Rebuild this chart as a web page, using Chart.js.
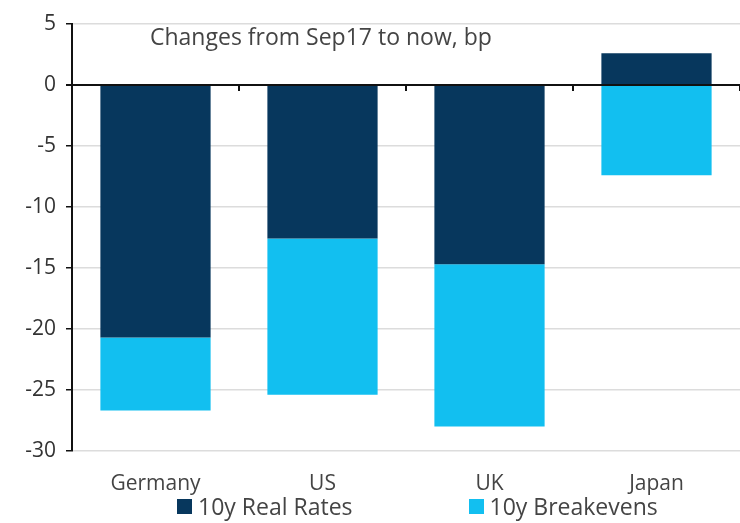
<!DOCTYPE html>
<html>
<head>
<meta charset="utf-8">
<script src="https://cdn.jsdelivr.net/npm/chart.js@4/dist/chart.umd.min.js"></script>
<style>
  body { margin: 0; background: #fff; font-family: "Open Sans", sans-serif; }
  #wrap { position: relative; width: 740px; height: 523px; }
  #chartBox { position: absolute; left: 0; top: 0; width: 740px; height: 510px; }
  #legend { position: absolute; left: 0; top: 492px; width: 740px; height: 28px; box-sizing: border-box;
            padding-left: 177px; display: flex; font-size: 23px; color: #444; line-height: 28px; }
  .item { display: flex; align-items: center; }
  .box { width: 15px; height: 15px; margin-right: 6px; }
</style>
</head>
<body>
<div id="wrap">
  <div id="chartBox"><canvas id="chart"></canvas></div>
  <div id="legend"></div>
</div>
<script>
const categories = ['Germany', 'US', 'UK', 'Japan'];
const realRates = [-20.7, -12.6, -14.7, 2.6];
const breakevens = [-6.0, -12.8, -13.3, -7.4];
const seriesNames = ['10y Real Rates', '10y Breakevens'];
const colors = ['#07375d', '#12bff0'];
const subtitle = 'Changes from Sep17 to now, bp';

// subtitle inside the plot + little category ticks on the zero line
const extras = {
    id: 'extras',
    afterDraw(chart) {
        const ctx = chart.ctx;
        const x = chart.scales.x;
        const y = chart.scales.y;
        const y0 = y.getPixelForValue(0);
        const step = x.getPixelForValue(1) - x.getPixelForValue(0);
        ctx.save();
        ctx.strokeStyle = '#111';
        ctx.lineWidth = 2;
        for (let i = 0; i < categories.length; i++) {
            const bx = x.getPixelForValue(i) + step / 2;
            ctx.beginPath();
            ctx.moveTo(bx, y0);
            ctx.lineTo(bx, y0 + 6);
            ctx.stroke();
        }
        ctx.fillStyle = '#444';
        ctx.font = '23px "Open Sans"';
        ctx.textBaseline = 'middle';
        ctx.fillText(subtitle, chart.chartArea.left + 78, y.getPixelForValue(3.85));
        ctx.restore();
    }
};

new Chart(document.getElementById('chart'), {
    type: 'bar',
    data: {
        labels: categories,
        datasets: [
            { label: seriesNames[0], data: realRates, backgroundColor: colors[0] },
            { label: seriesNames[1], data: breakevens, backgroundColor: colors[1] }
        ]
    },
    options: {
        responsive: true,
        maintainAspectRatio: false,
        animation: false,
        layout: { padding: { top: 24, right: 0, left: 0, bottom: 0 } },
        datasets: { bar: { barPercentage: 0.66, categoryPercentage: 1 } },
        plugins: { legend: { display: false }, tooltip: { enabled: false } },
        scales: {
            x: {
                stacked: true,
                grid: { display: false },
                border: { display: false },
                ticks: { color: '#444', font: { family: 'Open Sans', size: 21 }, padding: 13 }
            },
            y: {
                stacked: true,
                min: -30,
                max: 5,
                afterFit: scale => { scale.width = 72; },
                ticks: { stepSize: 5, color: '#333', font: { family: 'Open Sans', size: 21 }, padding: 10 },
                border: { color: '#111', width: 2 },
                grid: {
                    color: ctx => ctx.tick && ctx.tick.value === 0 ? '#111' : '#dcdcdc',
                    lineWidth: ctx => ctx.tick && ctx.tick.value === 0 ? 2 : 1.5,
                    tickColor: '#111',
                    tickLength: 6
                }
            }
        }
    },
    plugins: [extras]
});

const legend = document.getElementById('legend');
seriesNames.forEach((name, i) => {
    const el = document.createElement('div');
    el.className = 'item';
    el.style.marginLeft = i ? '116px' : '0';
    el.innerHTML = `<span class="box" style="background:${colors[i]}"></span><span>${name}</span>`;
    legend.appendChild(el);
});
</script>
</body>
</html>
